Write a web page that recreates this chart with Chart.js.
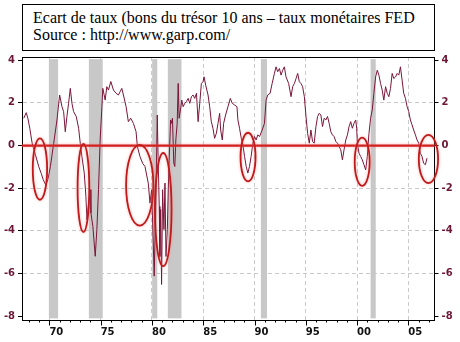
<!DOCTYPE html>
<html>
<head>
<meta charset="utf-8">
<script src="https://cdn.jsdelivr.net/npm/chart.js@4"></script>
<style>
  body { margin: 0; background: #fff; }
  #wrap { position: relative; width: 460px; height: 342px; }
  #titre {
    position: absolute; left: 22px; top: 4px; width: 413px; height: 47px;
    box-sizing: border-box; border: 1px solid #000; background: #fff;
    padding: 4px 0 0 10px; color: #000; white-space: nowrap;
    font: 16px/17.3px "Liberation Serif", "Times New Roman", serif;
  }
</style>
</head>
<body>
<div id="wrap">
  <canvas id="chart" width="460" height="342"></canvas>
  <div id="titre">Ecart de taux (bons du trésor 10 ans – taux monétaires FED<br>Source : http://www.garp.com/</div>
</div>
<script>
// spread 10 ans - Fed funds
const spreadYears = [
  1967.50, 1967.74, 1967.90, 1968.09, 1968.32, 1968.50, 1968.64, 1968.96, 1969.20, 1969.40,
  1969.65, 1969.85, 1970.10, 1970.42, 1970.74, 1971.00, 1971.23, 1971.39, 1971.55, 1971.71,
  1971.87, 1972.04, 1972.20, 1972.36, 1972.62, 1972.85, 1973.01, 1973.17, 1973.40, 1973.56,
  1973.66, 1973.82, 1973.98, 1974.05, 1974.24, 1974.47, 1974.63, 1974.79, 1974.95, 1975.12,
  1975.21, 1975.44, 1975.60, 1975.76, 1975.99, 1976.25, 1976.50, 1976.73, 1976.89, 1977.06,
  1977.22, 1977.48, 1977.70, 1977.93, 1978.19, 1978.45, 1978.58, 1978.83, 1979.09, 1979.32,
  1979.64, 1979.81, 1979.97, 1980.13, 1980.22, 1980.40, 1980.52, 1980.60, 1980.71, 1980.77,
  1980.85, 1980.94, 1981.04, 1981.17, 1981.27, 1981.37, 1981.50, 1981.59, 1981.69, 1981.82,
  1981.91, 1982.00, 1982.13, 1982.23, 1982.33, 1982.46, 1982.56, 1982.65, 1982.78, 1982.91,
  1983.04, 1983.20, 1983.36, 1983.53, 1983.69, 1983.85, 1984.01, 1984.17, 1984.34, 1984.50,
  1984.66, 1984.82, 1984.98, 1985.08, 1985.24, 1985.47, 1985.63, 1985.79, 1985.95, 1986.11,
  1986.28, 1986.44, 1986.60, 1986.70, 1986.86, 1986.99, 1987.18, 1987.41, 1987.64, 1987.83,
  1988.06, 1988.29, 1988.38, 1988.54, 1988.71, 1988.87, 1989.03, 1989.19, 1989.35, 1989.51,
  1989.67, 1989.84, 1990.00, 1990.16, 1990.32, 1990.49, 1990.75, 1990.97, 1991.13, 1991.29,
  1991.52, 1991.72, 1991.94, 1992.10, 1992.26, 1992.43, 1992.59, 1992.75, 1992.91, 1993.07,
  1993.33, 1993.56, 1993.72, 1993.89, 1994.05, 1994.21, 1994.37, 1994.53, 1994.69, 1994.86,
  1995.02, 1995.18, 1995.34, 1995.50, 1995.66, 1995.82, 1995.99, 1996.15, 1996.31, 1996.47,
  1996.63, 1996.79, 1996.96, 1997.12, 1997.28, 1997.44, 1997.60, 1997.76, 1997.93, 1998.09,
  1998.25, 1998.41, 1998.57, 1998.73, 1998.90, 1999.06, 1999.22, 1999.38, 1999.54, 1999.70,
  1999.87, 1999.96, 2000.03, 2000.19, 2000.35, 2000.51, 2000.67, 2000.84, 2001.00, 2001.16,
  2001.32, 2001.48, 2001.64, 2001.81, 2001.97, 2002.13, 2002.29, 2002.45, 2002.61, 2002.78,
  2002.94, 2003.10, 2003.26, 2003.42, 2003.58, 2003.75, 2003.91, 2004.07, 2004.23, 2004.39,
  2004.55, 2004.72, 2004.88, 2005.04, 2005.20, 2005.36, 2005.52, 2005.69, 2005.85, 2006.01,
  2006.17, 2006.33, 2006.49, 2006.66, 2006.82
];
const spreadValues = [
  1.28, 1.54, 1.28, 0.81, 0.11, -0.20, -0.43, -0.98, -1.30, -1.60,
  -1.85, -1.60, -0.98, 0.11, 1.20, 2.37, 1.82, 1.59, 0.65, 1.36,
  1.98, 2.68, 1.98, 1.59, 1.36, 0.81, 0.11, -0.51, -1.29, -2.38,
  -3.47, -2.70, -2.07, -3.16, -3.79, -5.19, -3.94, -2.07, 0.26, 1.82,
  2.68, 2.13, 2.76, 2.60, 3.00, 2.60, 2.45, 2.37, 2.52, 2.68,
  2.37, 1.82, 1.12, 1.28, 1.04, 0.65, -0.05, -0.51, -0.83, -0.98,
  -1.76, -2.70, -2.07, -4.57, -6.12, -2.07, 1.43, -0.51, -2.85, -5.20,
  -3.00, -6.51, -2.07, -3.94, -1.76, -5.20, -3.94, -2.07, -0.51, 1.20,
  1.04, 1.28, -0.83, -0.98, 0.26, 1.04, 2.91, 1.28, 1.67, 2.13,
  1.82, 1.98, 2.06, 2.21, 1.98, 2.29, 2.37, 2.21, 2.45, 1.12,
  1.98, 2.91, 2.99, 3.22, 2.83, 2.37, 1.82, 1.12, 0.81, 0.34,
  0.57, 1.04, 1.51, 0.73, 0.26, 1.04, 1.43, 1.82, 2.21, 1.98,
  1.90, 1.82, 1.20, 0.81, 0.34, 0.03, -0.51, -0.98, -1.29, -0.98,
  -0.51, 0.11, 0.42, 0.26, 0.50, 0.42, 0.73, 1.04, 2.13, 2.37,
  2.45, 2.91, 3.38, 3.69, 3.46, 3.61, 3.30, 3.53, 3.69, 3.22,
  2.91, 2.29, 2.76, 2.91, 3.14, 3.38, 2.99, 2.91, 2.76, 2.29,
  1.36, 0.57, 0.11, 0.73, 0.19, 0.11, 0.89, 1.36, 1.51, 1.43,
  0.89, 1.28, 1.20, 1.36, 1.04, 0.65, 0.50, 0.42, 0.19, 0.11,
  -0.05, -0.20, -0.67, -0.20, 0.26, 0.50, 0.89, 1.12, 0.81, 1.04,
  1.20, 0.81, 0.11, -0.36, -0.51, -0.67, -0.90, -1.14, -0.51, 0.57,
  1.28, 1.67, 2.45, 3.22, 3.53, 3.30, 2.91, 2.60, 2.13, 2.76,
  2.45, 2.29, 2.68, 3.38, 3.14, 3.22, 3.38, 3.30, 3.69, 3.07,
  2.45, 2.21, 1.82, 1.59, 1.20, 0.97, 0.73, 0.50, 0.26, 0.11,
  -0.36, -0.51, -0.83, -0.90, -0.59
];

// récessions (zones grises)
const recessionStart = [1969.95, 1973.85, 1980.02, 1981.55, 1990.62, 2001.32];
const recessionEnd = [1970.85, 1975.2, 1980.52, 1982.88, 1991.22, 2001.82];

// ellipses rouges : centre (année, valeur) et demi-axes
const circleYears = [1969.08, 1973.32, 1978.81, 1981.1, 1989.37, 2000.5, 2006.96];
const circleValues = [-1.10, -1.99, -1.86, -3.0, -0.54, -0.76, -0.63];
const circleHalfYears = [0.70, 0.57, 1.33, 0.81, 0.73, 0.73, 0.94];
const circleHalfValues = [1.44, 2.07, 1.89, 2.65, 1.14, 1.13, 1.13];

const yTicks = [-8, -6, -4, -2, 0, 2, 4];
const xMajorTicks = [1970, 1975, 1980, 1985, 1990, 1995, 2000, 2005];
const xTickLabels = ['70', '75', '80', '85', '90', '95', '00', '05'];

const labelFont = { family: 'DejaVu Sans', size: 10, weight: 'bold' };

const decor = {
  id: 'decor',
  beforeDatasetsDraw(chart) {
    const { ctx, scales: { x, y } } = chart;
    ctx.save();
    ctx.fillStyle = '#c8c8c8';
    const top = y.getPixelForValue(4.05), bot = y.getPixelForValue(-8.1);
    recessionStart.forEach((s, i) => {
      const x1 = x.getPixelForValue(s), x2 = x.getPixelForValue(recessionEnd[i]);
      ctx.fillRect(x1, top, x2 - x1, bot - top);
    });
    ctx.restore();
  },
  afterDatasetsDraw(chart) {
    const { ctx, chartArea: a, scales: { x, y } } = chart;
    ctx.save();
    ctx.shadowColor = 'rgba(255,120,120,0.6)';
    ctx.shadowBlur = 3;
    ctx.strokeStyle = '#d02020';
    ctx.lineWidth = 2.2;
    const y0 = y.getPixelForValue(0);
    ctx.beginPath();
    ctx.moveTo(a.left, y0);
    ctx.lineTo(a.right, y0);
    ctx.stroke();
    ctx.lineWidth = 1.8;
    ctx.strokeStyle = '#be1a1a';
    circleYears.forEach((cy, i) => {
      const px = x.getPixelForValue(cy), py = y.getPixelForValue(circleValues[i]);
      const rx = Math.abs(x.getPixelForValue(cy + circleHalfYears[i]) - px);
      const ry = Math.abs(y.getPixelForValue(circleValues[i] + circleHalfValues[i]) - py);
      ctx.beginPath();
      ctx.ellipse(px, py, rx, ry, 0, 0, Math.PI * 2);
      ctx.stroke();
    });
    ctx.restore();

    // cadre du haut + graduations de l'axe x
    ctx.save();
    ctx.strokeStyle = '#000';
    ctx.lineWidth = 1;
    ctx.beginPath();
    ctx.moveTo(a.left, Math.round(a.top) + 0.5);
    ctx.lineTo(a.right, Math.round(a.top) + 0.5);
    ctx.stroke();
    x.ticks.forEach(t => {
      const px = Math.round(x.getPixelForValue(t.value)) + 0.5;
      const len = xMajorTicks.includes(t.value) ? 5 : 2;
      ctx.beginPath();
      ctx.moveTo(px, a.bottom);
      ctx.lineTo(px, a.bottom + len);
      ctx.stroke();
    });
    ctx.restore();
  }
};

const yAxis = (pos, width) => ({
  position: pos,
  min: -8.2,
  max: 4.15,
  afterBuildTicks: s => { s.ticks = yTicks.map(v => ({ value: v })); },
  afterFit: s => { s.width = width; },
  grid: {
    drawOnChartArea: pos === 'left',
    color: c => (c.tick && (c.tick.value === 4 || c.tick.value === -8)) ? 'rgba(0,0,0,0)' : '#cacaca',
    tickLength: 4,
    tickColor: '#000'
  },
  border: { color: '#000', dash: [4, 3] },
  ticks: { color: '#6b1736', font: labelFont, padding: 3 }
});

new Chart(document.getElementById('chart').getContext('2d'), {
  type: 'line',
  data: {
    datasets: [{
      data: spreadYears.map((yr, i) => ({ x: yr, y: spreadValues[i] })),
      borderColor: '#7b1538',
      borderWidth: 1,
      pointRadius: 0,
      tension: 0,
      yAxisID: 'y'
    }]
  },
  options: {
    responsive: false,
    animation: false,
    devicePixelRatio: 1,
    layout: { padding: { top: 57, left: 0, right: 0, bottom: 0 } },
    plugins: { legend: { display: false }, tooltip: { enabled: false } },
    scales: {
      x: {
        type: 'linear',
        min: 1967.33,
        max: 2007.55,
        afterBuildTicks: s => {
          const t = [];
          for (let v = 1968; v <= 2007; v++) t.push({ value: v });
          s.ticks = t;
        },
        afterFit: s => { s.height = 21.5; },
        grid: {
          color: c => (c.tick && xMajorTicks.includes(c.tick.value)) ? '#cacaca' : 'rgba(0,0,0,0)',
          drawTicks: false
        },
        border: { color: '#000', dash: [4, 3] },
        ticks: {
          autoSkip: false,
          maxRotation: 0,
          align: 'start',
          padding: 6,
          color: '#111',
          font: labelFont,
          callback: v => {
            const i = xMajorTicks.indexOf(v);
            return i < 0 ? '' : xTickLabels[i];
          }
        }
      },
      y: yAxis('left', 22),
      y2: yAxis('right', 25.5)
    }
  },
  plugins: [decor]
});
</script>
</body>
</html>
